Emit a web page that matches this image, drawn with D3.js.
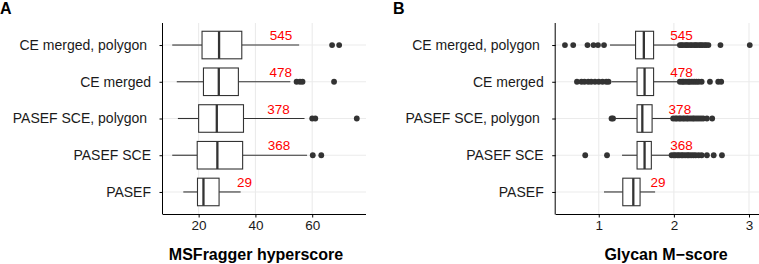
<!DOCTYPE html>
<html>
<head lang="en">
    <meta charset="UTF-8">
    <title></title>
    <script src="https://cdn.jsdelivr.net/npm/d3@7/dist/d3.min.js"></script>
    <style>
        body{margin:0;background:#fff;}
        text{font-family:"Liberation Sans",Arial,Helvetica,sans-serif;}
    </style>
</head>
<body>
<div id="tu1"></div>
<script>
    // categories, top to bottom
    var cats=['CE merged, polygon ','CE merged','PASEF SCE, polygon ','PASEF SCE','PASEF'];
    var counts=['545','478','378','368','29'];

    // panel A: MSFragger hyperscore
    var hsLow=[10.7,12.3,12.7,10.7,14.6];
    var hsQ1=[21.2,21.7,20.0,19.5,19.6];
    var hsMed=[27.2,27.1,26.4,26.6,21.7];
    var hsQ3=[35.2,34.0,35.8,35.5,27.2];
    var hsHigh=[55.4,52.3,57.3,58.2,34.8];
    var hsOut=[[67.0,69.5],[54.5,55.7,56.6,67.7],[60.0,61.1,75.7],[60.2,63.2],[]];
    var hsLabelX=[49.0,48.9,48.1,48.3,36.2];
    var hsTicks=[20,40,60];

    // panel B: Glycan M-score
    var gmLow=[1.15,1.17,1.22,1.31,1.07];
    var gmQ1=[1.49,1.51,1.51,1.51,1.32];
    var gmMed=[1.60,1.61,1.58,1.61,1.46];
    var gmQ3=[1.73,1.73,1.71,1.70,1.55];
    var gmHigh=[2.06,2.06,1.97,1.95,1.75];
    var gmOut=[
        [0.55,0.66,0.85,0.93,0.99,1.07,2.08,2.10,2.12,2.15,2.17,2.19,2.22,2.24,2.27,2.29,2.31,2.34,2.36,2.38,2.41,2.43,2.46,2.62,3.01],
        [0.71,0.77,0.81,0.86,0.90,0.95,1.00,1.05,1.10,1.13,2.08,2.11,2.13,2.16,2.19,2.21,2.24,2.27,2.30,2.33,2.37,2.48,2.59,2.63],
        [1.17,1.19,1.99,2.02,2.04,2.07,2.09,2.12,2.14,2.17,2.19,2.22,2.25,2.27,2.30,2.33,2.36,2.39,2.44,2.51],
        [0.82,1.11,1.97,2.00,2.02,2.05,2.07,2.10,2.12,2.15,2.18,2.20,2.23,2.26,2.29,2.33,2.37,2.44,2.53,2.64],
        []
    ];
    var gmLabelX=[2.10,2.10,2.08,2.10,1.79];
    var gmTicks=[1,2,3];

    var svg=d3.select('#tu1').append('svg')
            .attr('width',759)
            .attr('height',264);

    var plotTop=23,plotBottom=214;
    var textColor='#1a1a1a',lineColor='#333';

    var yscale=d3.scalePoint()
            .domain(cats)
            .range([plotTop,plotBottom])
            .padding(0.6);
    var boxH=yscale.step()*0.75;

    function drawPanel(p){
        var all=d3.merge([p.low,p.high,d3.merge(p.out)]);
        var ext=d3.extent(all);
        var pad=(ext[1]-ext[0])*0.05;
        var x=d3.scaleLinear()
                .domain([ext[0]-pad,ext[1]+pad])
                .range([p.left,p.right]);

        var g=svg.append('g');

        // grid
        g.selectAll('.vg').data(p.ticks).enter().append('line')
                .attr('x1',function(d){return x(d)}).attr('x2',function(d){return x(d)})
                .attr('y1',plotTop).attr('y2',plotBottom)
                .attr('stroke','#ebebeb').attr('stroke-width',1.1);
        g.selectAll('.hg').data(cats).enter().append('line')
                .attr('x1',p.left).attr('x2',p.right)
                .attr('y1',function(d){return yscale(d)}).attr('y2',function(d){return yscale(d)})
                .attr('stroke','#ebebeb').attr('stroke-width',1.1);

        // x axis
        var xaxis=d3.axisBottom(x).tickValues(p.ticks).tickFormat(d3.format('d'))
                .tickSize(3.5).tickPadding(3).tickSizeOuter(0);
        var gx=g.append('g').attr('transform','translate(0,'+plotBottom+')').call(xaxis);
        gx.select('.domain').attr('stroke','#000').attr('d','M'+p.left+',0.5H'+p.right);
        gx.selectAll('.tick line').attr('stroke','#000');
        gx.selectAll('.tick text').attr('fill',textColor).style('font-size','13.5px')
                .style('font-family','"Liberation Sans",Arial,sans-serif');

        // y axis
        var yaxis=d3.axisLeft(yscale).tickSize(3.5).tickPadding(8.5).tickSizeOuter(0);
        var gy=g.append('g').attr('transform','translate('+p.left+',0)').call(yaxis);
        gy.select('.domain').attr('stroke','#000').attr('d','M-0.5,'+plotTop+'V'+(plotBottom+0.5));
        gy.selectAll('.tick line').attr('stroke','#000');
        gy.selectAll('.tick text').attr('fill',textColor).style('font-size','14px')
                .style('white-space','pre')
                .style('font-family','"Liberation Sans",Arial,sans-serif');

        // boxes
        var rows=g.selectAll('.row').data(cats).enter().append('g');
        rows.append('line')
                .attr('x1',function(d,i){return x(p.low[i])})
                .attr('x2',function(d,i){return x(p.q1[i])})
                .attr('y1',function(d){return yscale(d)}).attr('y2',function(d){return yscale(d)})
                .attr('stroke',lineColor).attr('stroke-width',1.1);
        rows.append('line')
                .attr('x1',function(d,i){return x(p.q3[i])})
                .attr('x2',function(d,i){return x(p.high[i])})
                .attr('y1',function(d){return yscale(d)}).attr('y2',function(d){return yscale(d)})
                .attr('stroke',lineColor).attr('stroke-width',1.1);
        rows.append('rect')
                .attr('x',function(d,i){return x(p.q1[i])})
                .attr('width',function(d,i){return x(p.q3[i])-x(p.q1[i])})
                .attr('y',function(d){return yscale(d)-boxH/2})
                .attr('height',boxH)
                .attr('fill','#fff').attr('stroke',lineColor).attr('stroke-width',1.1);
        rows.append('line')
                .attr('x1',function(d,i){return x(p.med[i])})
                .attr('x2',function(d,i){return x(p.med[i])})
                .attr('y1',function(d){return yscale(d)-boxH/2}).attr('y2',function(d){return yscale(d)+boxH/2})
                .attr('stroke',lineColor).attr('stroke-width',2.3);
        rows.each(function(d,i){
            d3.select(this).selectAll('circle').data(p.out[i]).enter().append('circle')
                    .attr('cx',function(v){return x(v)})
                    .attr('cy',yscale(d))
                    .attr('r',2.9)
                    .attr('fill',lineColor);
        });
        rows.append('text')
                .text(function(d,i){return counts[i]})
                .attr('x',function(d,i){return x(p.labelX[i])})
                .attr('y',function(d){return yscale(d)-5})
                .attr('text-anchor','middle')
                .attr('fill','#ff0000')
                .style('font-size','13.5px');

        // titles
        g.append('text').text(p.title)
                .attr('x',p.titleX).attr('y',260)
                .attr('text-anchor','middle')
                .attr('fill','#000')
                .style('font-size','16px').style('font-weight','bold');
        g.append('text').text(p.tag)
                .attr('x',p.tagX).attr('y',14)
                .attr('fill','#000')
                .style('font-size','16px').style('font-weight','bold');
    }

    drawPanel({left:163,right:366,low:hsLow,q1:hsQ1,med:hsMed,q3:hsQ3,high:hsHigh,out:hsOut,
        labelX:hsLabelX,ticks:hsTicks,title:'MSFragger hyperscore',titleX:256,tag:'A',tagX:0});
    drawPanel({left:555.7,right:759,low:gmLow,q1:gmQ1,med:gmMed,q3:gmQ3,high:gmHigh,out:gmOut,
        labelX:gmLabelX,ticks:gmTicks,title:'Glycan M\u2212score',titleX:666,tag:'B',tagX:393});
</script>
</body>
</html>
